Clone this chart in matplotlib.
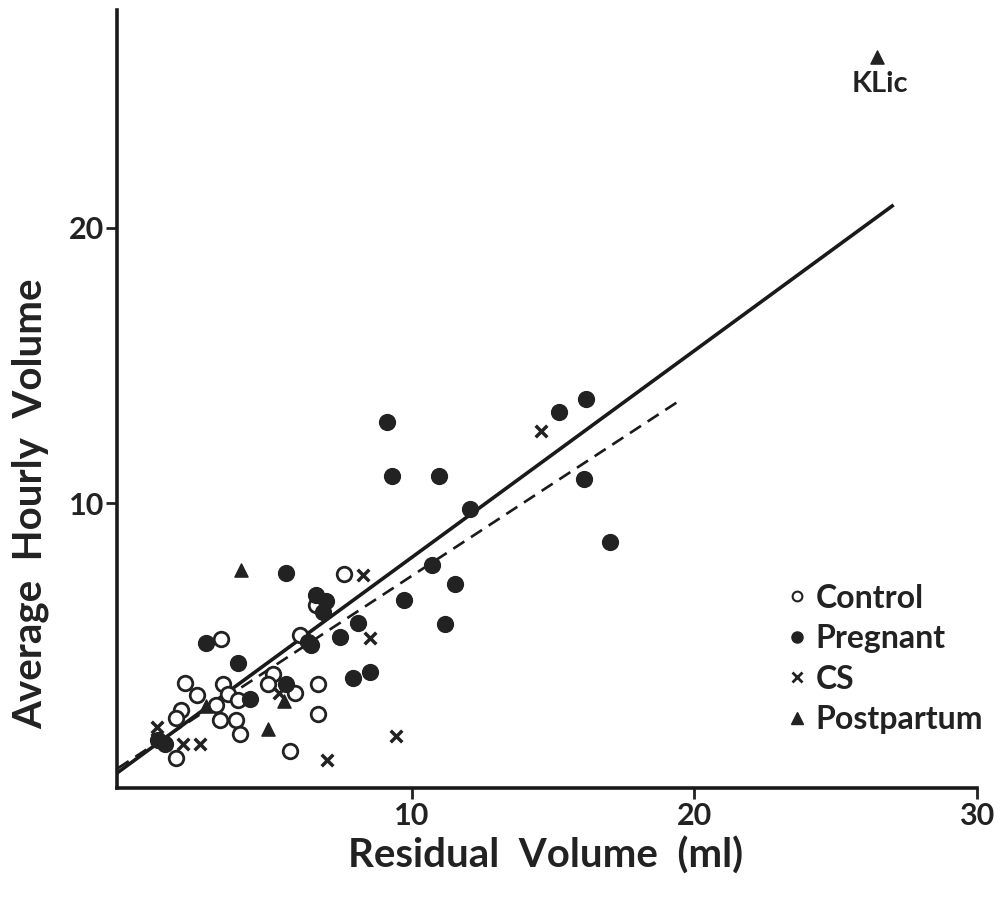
import matplotlib
matplotlib.use("Agg")
import matplotlib.pyplot as plt
from matplotlib.lines import Line2D
import numpy as np

plt.rcParams['font.family'] = ['Lato', 'DejaVu Sans']
plt.rcParams['font.weight'] = 'bold'

# data: residual volume (ml) vs average hourly volume
control_x = [7.61, 6.63, 3.27, 6.04, 1.98, 2.40, 1.85, 1.67, 3.33, 3.51, 3.07,
             3.86, 3.22, 3.80, 3.93, 5.11, 4.92, 5.88, 6.69, 6.69, 5.69, 1.68]
control_y = [7.45, 6.30, 5.10, 5.22, 3.47, 3.04, 2.52, 2.23, 3.46, 3.09, 2.68,
             2.87, 2.16, 2.16, 1.65, 3.83, 3.46, 3.12, 3.44, 2.37, 1.03, 0.78]

pregnant_x = [5.55, 6.63, 6.98, 6.87, 8.10, 2.73, 7.48, 6.34, 6.45, 3.86, 4.28,
              5.57, 7.92, 8.53, 1.04, 1.27, 9.13, 15.23, 16.17, 9.32, 10.97,
              16.08, 12.05, 17.02, 10.73, 11.55, 9.72, 11.17]
pregnant_y = [7.48, 6.67, 6.46, 6.06, 5.68, 4.95, 5.14, 4.97, 4.86, 4.21, 2.89,
              3.46, 3.68, 3.87, 1.41, 1.29, 12.97, 13.33, 13.79, 10.99, 10.98,
              10.89, 9.80, 8.60, 7.75, 7.07, 6.49, 5.64]

cs_x = [8.28, 8.53, 0.98, 1.00, 1.92, 2.51, 5.32, 6.99, 9.46, 14.58]
cs_y = [7.39, 5.13, 1.90, 1.45, 1.29, 1.29, 3.11, 0.71, 1.56, 12.64]

post_x = [3.98, 2.71, 5.50, 4.92, 26.47]
post_y = [7.57, 2.65, 2.82, 1.82, 26.20]

# fitted lines (intercept, slope, x range)
solid_fit = (0.54, 0.75, -0.4, 27.0)
dashed_fit = (0.66, 0.671, -0.4, 19.4)

fig = plt.figure(figsize=(10.01, 9.05), dpi=100)
ax = fig.add_axes([0.117, 0.129, 0.859, 0.860])

ax.scatter(control_x, control_y, s=110, facecolors='white', edgecolors='#222222',
           linewidths=2.0, zorder=3)
ax.scatter(pregnant_x, pregnant_y, s=130, color='#222222', zorder=3)
ax.scatter(cs_x, cs_y, s=70, marker='x', color='#222222', linewidths=2.5, zorder=3)
ax.scatter(post_x, post_y, s=90, marker='^', color='#222222', zorder=3)

for (a, b, x0, x1), ls, lw in [(solid_fit, '-', 2.6), (dashed_fit, '--', 1.9)]:
    xs = np.array([x0, x1])
    ax.plot(xs, a + b * xs, ls, color='#1a1a1a', lw=lw, zorder=2,
            dashes=(5, 3) if ls == '--' else (None, None))

ax.text(post_x[-1] + 0.1, post_y[-1] - 0.5, 'KLic', fontsize=21, fontweight='bold',
        ha='center', va='top', color='#222222')

ax.set_xlim(-0.42, 30)
ax.set_ylim(-0.33, 27.9)
ax.set_xticks([10, 20, 30])
ax.set_yticks([10, 20])
ax.tick_params(axis='both', direction='out', length=8, width=2, labelsize=22,
               color='#222222', labelcolor='#222222')
ax.tick_params(axis='x', pad=2)
ax.tick_params(axis='y', pad=1)
for s in ['top', 'right']:
    ax.spines[s].set_visible(False)
for s in ['left', 'bottom']:
    ax.spines[s].set_linewidth(2.6)
    ax.spines[s].set_color('#1a1a1a')

ax.set_xlabel('Residual  Volume  (ml)', fontsize=29, fontweight='bold',
              color='#222222', va='center')
ax.set_ylabel('Average  Hourly  Volume', fontsize=29, fontweight='bold',
              color='#222222', va='center')
ax.xaxis.set_label_coords(0.498, -0.086)
ax.yaxis.set_label_coords(-0.101, 0.366)

handles = [
    Line2D([], [], ls='none', marker='o', mfc='white', mec='#222222', ms=7, mew=1.5),
    Line2D([], [], ls='none', marker='o', color='#222222', ms=8),
    Line2D([], [], ls='none', marker='x', color='#222222', ms=7, mew=2),
    Line2D([], [], ls='none', marker='^', color='#222222', ms=8),
]
ax.legend(handles, ['Control', 'Pregnant', 'CS', 'Postpartum'], loc='upper left',
          bbox_to_anchor=(0.742, 0.300), frameon=False, fontsize=23,
          handletextpad=0.2, handlelength=0.8, labelspacing=0.36,
          labelcolor='#222222')

fig.savefig('out.png', dpi=100)
